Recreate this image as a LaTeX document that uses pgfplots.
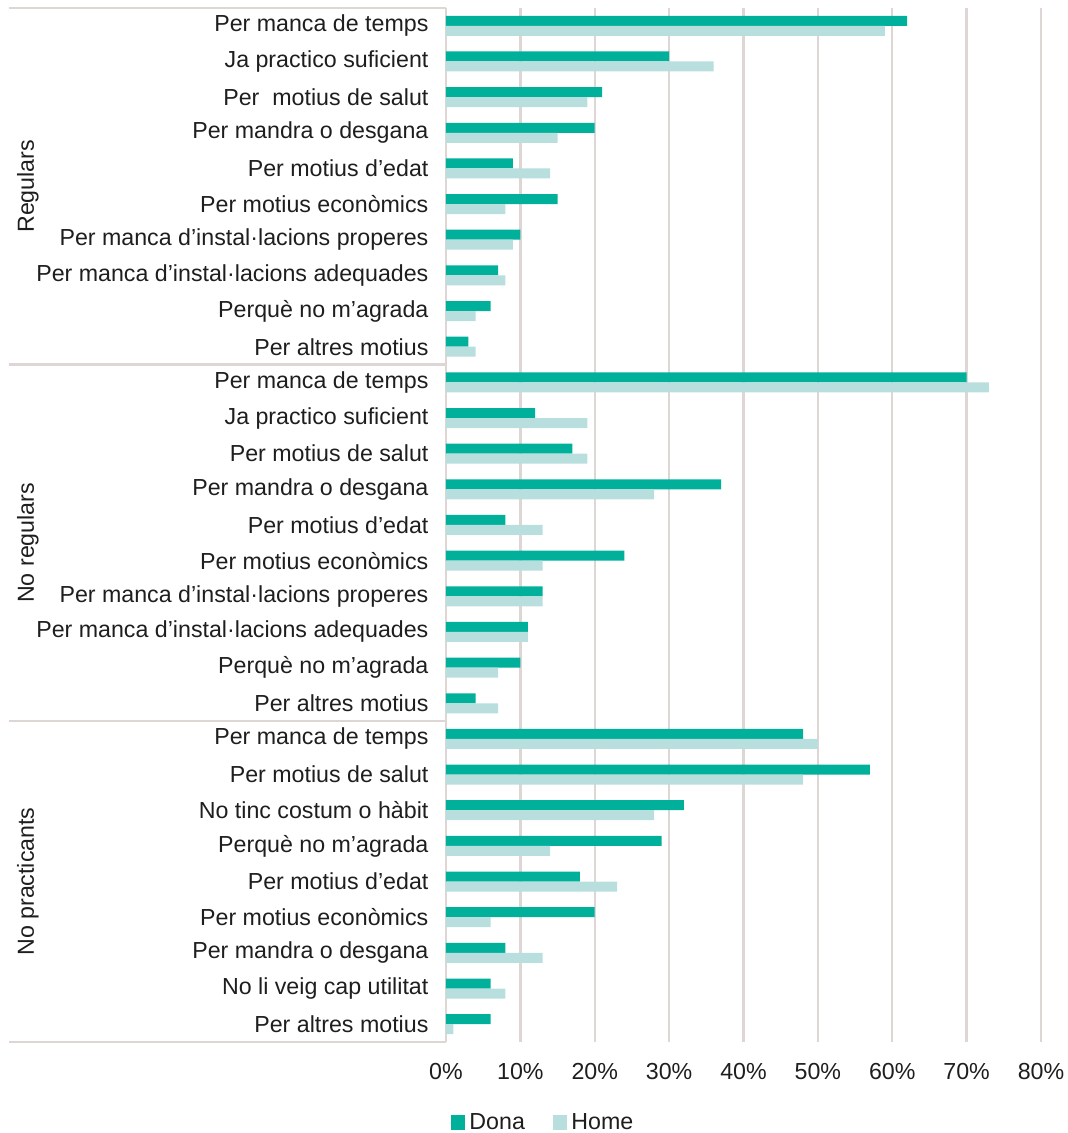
\documentclass[border=0pt]{standalone}
\usepackage{fontspec}
\setmainfont{Liberation Sans}
\usepackage{pgfplots}
\pgfplotsset{compat=1.18}

\definecolor{dona}{RGB}{0,176,155}
\definecolor{home}{RGB}{184,223,221}
\definecolor{gridc}{RGB}{221,214,212}
\definecolor{txt}{RGB}{30,30,30}

\begin{document}
\begin{tikzpicture}[font=\fontsize{11.6}{13}\selectfont, text=txt]
% page size = reference proportions (1 px = 0.5 pt)
\useasboundingbox (-223pt,-45.5pt) rectangle (310.5pt,521pt);
\begin{axis}[
name=ax,
scale only axis,
width=297.5pt, height=517pt,
xbar,
bar width=5pt,
xmin=0, xmax=80,
ymin=-0.5, ymax=28.5,
xtick={0,10,...,80},
xticklabel={\pgfmathprintnumber{\tick}\%},
/pgf/number format/assume math mode=true,
xticklabel style={yshift=-7pt},
ytick={0,...,28},
yticklabels={
Per altres motius,
No li veig cap utilitat,
Per mandra o desgana,
Per motius econòmics,
Per motius d’edat,
Perquè no m’agrada,
No tinc costum o hàbit,
Per motius de salut,
Per manca de temps,
Per altres motius,
Perquè no m’agrada,
Per manca d’instal·lacions adequades,
Per manca d’instal·lacions properes,
Per motius econòmics,
Per motius d’edat,
Per mandra o desgana,
Per motius de salut,
Ja practico suficient,
Per manca de temps,
Per altres motius,
Perquè no m’agrada,
Per manca d’instal·lacions adequades,
Per manca d’instal·lacions properes,
Per motius econòmics,
Per motius d’edat,
Per mandra o desgana,
Per\ \ motius de salut,
Ja practico suficient,
Per manca de temps},
yticklabel style={xshift=-1pt},
xmajorgrids,
grid style={gridc, line width=1.2pt},
axis line style={draw=none},
tick style={draw=none},
clip=false,
legend columns=2,
legend style={at={(0.165,-0.078)}, anchor=center, draw=none, fill=none,
  /tikz/every even column/.append style={column sep=12pt}},
legend image code/.code={\fill[#1] (0pt,-3.6pt) rectangle (7.2pt,3.6pt);},
]
\addplot[fill=dona, draw=none, bar shift=2.5pt] coordinates {
(62,28) (30,27) (21,26) (20,25) (9,24) (15,23) (10,22) (7,21) (6,20) (3,19)
(70,18) (12,17) (17,16) (37,15) (8,14) (24,13) (13,12) (11,11) (10,10) (4,9)
(48,8) (57,7) (32,6) (29,5) (18,4) (20,3) (8,2) (6,1) (6,0)
};
\addlegendentry{Dona}
\addplot[fill=home, draw=none, bar shift=-2.5pt] coordinates {
(59,28) (36,27) (19,26) (15,25) (14,24) (8,23) (9,22) (8,21) (4,20) (4,19)
(73,18) (19,17) (19,16) (28,15) (13,14) (13,13) (13,12) (11,11) (7,10) (7,9)
(50,8) (48,7) (28,6) (14,5) (23,4) (6,3) (13,2) (8,1) (1,0)
};
\addlegendentry{Home}

% group separators
\draw[gridc, line width=1.2pt] ([xshift=-218.5pt]axis cs:0,28.5) -- (axis cs:0,28.5);
\draw[gridc, line width=1.2pt] ([xshift=-218.5pt]axis cs:0,18.5) -- (axis cs:0,18.5);
\draw[gridc, line width=1.2pt] ([xshift=-218.5pt]axis cs:0,8.5) -- (axis cs:0,8.5);
\draw[gridc, line width=1.2pt] ([xshift=-218.5pt]axis cs:0,-0.5) -- (axis cs:0,-0.5);
\node[rotate=90] at ([xshift=-209pt]axis cs:0,23.5) {Regulars};
\node[rotate=90] at ([xshift=-209pt]axis cs:0,13.5) {No regulars};
\node[rotate=90] at ([xshift=-209pt]axis cs:0,4) {No practicants};
\end{axis}
\end{tikzpicture}
\end{document}
